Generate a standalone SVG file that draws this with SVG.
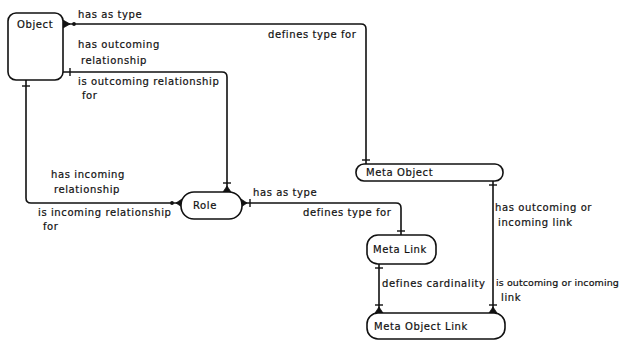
<svg xmlns="http://www.w3.org/2000/svg" width="633" height="341" viewBox="0 0 633 341">
  <style>
    .box { fill: #fff; stroke: #111; stroke-width: 1.6; }
    .line { fill: none; stroke: #111; stroke-width: 1.6; }
    .tick { stroke: #111; stroke-width: 1.4; }
    .foot { fill: #111; stroke: #111; stroke-width: 0.8; stroke-linejoin: round; }
    text { font-family: "DejaVu Sans", "Liberation Sans", sans-serif; font-size: 10px; letter-spacing: 0.6px; fill: #111; stroke: #111; stroke-width: 0.2; }
    .tight { font-size: 9.5px; letter-spacing: 0.1px; }
  </style>
  <rect width="633" height="341" fill="#fff"/>

  <!-- relationships -->
  <g id="connectors">
    <!-- Object has as type / defines type for Meta Object -->
    <path class="line" d="M63,24 H361 Q366,24 366,29 V164"/>
    <path class="foot" d="M63,20 L70,24 L63,28 Z"/>
    <circle cx="74" cy="24" r="1.9" fill="#111"/>
    <line class="tick" x1="362" y1="160" x2="370" y2="160"/>

    <!-- Object has outcoming relationship / Role -->
    <path class="line" d="M63,72 H222 Q227,72 227,77 V192"/>
    <line class="tick" x1="70" y1="68" x2="70" y2="76"/>
    <line class="tick" x1="223" y1="183" x2="231" y2="183"/>
    <path class="foot" d="M223,192 L227,186 L231,192 Z"/>

    <!-- Object has incoming relationship / Role -->
    <path class="line" d="M26,80 V198 Q26,203 31,203 H181"/>
    <line class="tick" x1="22" y1="86" x2="30" y2="86"/>
    <path class="foot" d="M182,199 L176,203 L182,207 Z"/>
    <circle cx="172" cy="203" r="1.9" fill="#111"/>

    <!-- Role has as type / defines type for Meta Link -->
    <path class="line" d="M242,203 H396 Q401,203 401,208 V235"/>
    <path class="foot" d="M241,199 L247,203 L241,207 Z"/>
    <line class="tick" x1="250" y1="199" x2="250" y2="207"/>
    <line class="tick" x1="397" y1="231" x2="405" y2="231"/>

    <!-- Meta Link defines cardinality -->
    <path class="line" d="M379,264 V313"/>
    <line class="tick" x1="375" y1="268" x2="383" y2="268"/>
    <line class="tick" x1="375" y1="305" x2="383" y2="305"/>
    <path class="foot" d="M375,313 L379,307 L383,313 Z"/>

    <!-- Meta Object has outcoming or incoming link -->
    <path class="line" d="M493,181 V313"/>
    <line class="tick" x1="489" y1="185" x2="497" y2="185"/>
    <line class="tick" x1="489" y1="305" x2="497" y2="305"/>
    <path class="foot" d="M489,313 L493,307 L497,313 Z"/>
  </g>

  <!-- connector labels -->
  <g id="labels">
    <text x="78" y="18">has as type</text>
    <text x="268" y="38">defines type for</text>
    <text x="78" y="48">has outcoming</text>
    <text x="81" y="64">relationship</text>
    <text x="78" y="85">is outcoming relationship</text>
    <text x="82" y="99">for</text>
    <text x="51" y="178">has incoming</text>
    <text x="54" y="193">relationship</text>
    <text x="38" y="216">is incoming relationship</text>
    <text x="43" y="230">for</text>
    <text x="253" y="196">has as type</text>
    <text x="303" y="216">defines type for</text>
    <text x="495" y="211">has outcoming or</text>
    <text x="498" y="226">incoming link</text>
    <text x="382" y="287">defines cardinality</text>
    <text class="tight" x="496" y="286">is outcoming or incoming</text>
    <text x="501" y="301">link</text>
  </g>

  <g id="object">
    <rect class="box" x="8" y="13" width="55" height="67" rx="8"/>
    <text x="17" y="28">Object</text>
  </g>

  <g id="role">
    <rect class="box" x="181" y="192" width="61" height="27" rx="13"/>
    <text x="193" y="209">Role</text>
  </g>

  <g id="meta-object">
    <rect class="box" x="356" y="164" width="147" height="17" rx="8"/>
    <text x="366" y="176">Meta Object</text>
  </g>

  <g id="meta-link">
    <rect class="box" x="367" y="235" width="69" height="29" rx="11"/>
    <text x="373" y="253">Meta Link</text>
  </g>

  <g id="meta-object-link">
    <rect class="box" x="367" y="313" width="138" height="26" rx="11"/>
    <text x="374" y="330">Meta Object Link</text>
  </g>
</svg>
